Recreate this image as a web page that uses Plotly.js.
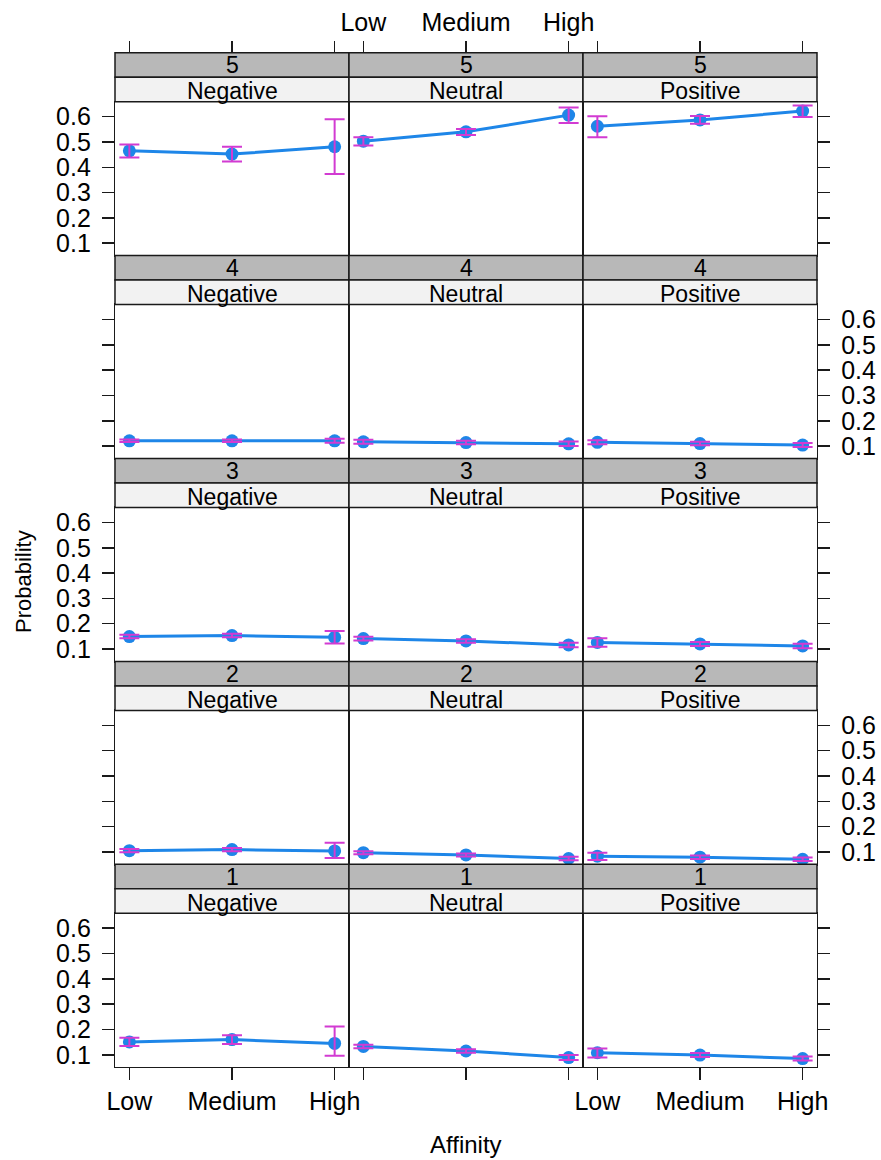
<!DOCTYPE html>
<html>
<head>
<meta charset="utf-8">
<script src="https://cdn.plot.ly/plotly-3.0.1.min.js"></script>
<style>
  html, body { margin: 0; padding: 0; background: #fff; }
  #chart { width: 881px; height: 1160px; }
</style>
</head>
<body>
<div id="chart"></div>
<script>
// Categories
const affinity = ['Low', 'Medium', 'High'];
const emotions = ['Negative', 'Neutral', 'Positive'];
const responses = ['5', '4', '3', '2', '1'];
const probTicks = [0.1, 0.2, 0.3, 0.4, 0.5, 0.6];

// Predicted probabilities, ordered Negative(Low, Medium, High), Neutral(...), Positive(...)
const prob5  = [0.465, 0.452, 0.481, 0.503, 0.540, 0.606, 0.562, 0.587, 0.622];
const lower5 = [0.439, 0.423, 0.373, 0.486, 0.527, 0.575, 0.519, 0.572, 0.599];
const upper5 = [0.490, 0.481, 0.590, 0.519, 0.551, 0.636, 0.602, 0.603, 0.644];

const prob4  = [0.121, 0.121, 0.121, 0.117, 0.114, 0.109, 0.115, 0.110, 0.104];
const lower4 = [0.116, 0.116, 0.113, 0.109, 0.107, 0.100, 0.107, 0.103, 0.096];
const upper4 = [0.126, 0.126, 0.129, 0.125, 0.121, 0.118, 0.123, 0.117, 0.112];

const prob3  = [0.149, 0.153, 0.146, 0.141, 0.132, 0.116, 0.126, 0.120, 0.112];
const lower3 = [0.142, 0.146, 0.122, 0.134, 0.125, 0.107, 0.109, 0.112, 0.103];
const upper3 = [0.156, 0.160, 0.171, 0.148, 0.139, 0.125, 0.142, 0.128, 0.121];

const prob2  = [0.105, 0.109, 0.104, 0.097, 0.088, 0.074, 0.083, 0.079, 0.071];
const lower2 = [0.099, 0.103, 0.076, 0.091, 0.082, 0.067, 0.068, 0.072, 0.064];
const upper2 = [0.111, 0.115, 0.136, 0.103, 0.094, 0.081, 0.097, 0.086, 0.078];

const prob1  = [0.151, 0.160, 0.145, 0.133, 0.115, 0.089, 0.108, 0.099, 0.085];
const lower1 = [0.135, 0.143, 0.096, 0.126, 0.108, 0.079, 0.089, 0.091, 0.077];
const upper1 = [0.167, 0.177, 0.212, 0.140, 0.122, 0.099, 0.125, 0.107, 0.093];

const probRows  = [prob5, prob4, prob3, prob2, prob1];
const lowerRows = [lower5, lower4, lower3, lower2, lower1];
const upperRows = [upper5, upper4, upper3, upper2, upper1];

// Page geometry (pixels)
const W = 881, H = 1160;
const colEdges = [115, 349, 583, 817];
const rowTop0 = 52.7, rowStep = 202.9, stripH = 24.5;
const px = v => v / W;
const py = v => 1 - v / H;

const FONT = 'Liberation Sans, Arial, sans-serif';
const FS = 25;        // tick labels
const FS_STRIP = 23;  // strip labels
const BLUE = '#1e86e8';
const MAGENTA = '#d23bd2';
const LINE = '#1a1a1a';
const LW = 1.2;

const traces = [];
const layout = {
  width: W, height: H,
  margin: { l: 0, r: 0, t: 0, b: 0 },
  paper_bgcolor: '#fff', plot_bgcolor: '#fff',
  showlegend: false,
  font: { family: FONT, size: FS, color: '#000' },
  shapes: [], annotations: []
};

const xRange = [0.86, 3.14];
const yRange = [0.051, 0.659];

for (let r = 0; r < 5; r++) {
  const top = rowTop0 + r * rowStep;
  const panelTop = top + 2 * stripH;
  const panelBot = top + rowStep;
  for (let c = 0; c < 3; c++) {
    const idx = r * 3 + c + 1;
    const xa = 'x' + idx, ya = 'y' + idx;
    const x0 = colEdges[c], x1 = colEdges[c + 1];

    const vals = probRows[r].slice(c * 3, c * 3 + 3);
    const lo = lowerRows[r].slice(c * 3, c * 3 + 3);
    const hi = upperRows[r].slice(c * 3, c * 3 + 3);

    // Line through the estimates
    traces.push({
      type: 'scatter', mode: 'lines+markers',
      x: [1, 2, 3], y: vals, xaxis: xa, yaxis: ya,
      line: { color: BLUE, width: 3 },
      marker: { color: BLUE, size: 13 },
      hoverinfo: 'skip'
    });
    // Confidence intervals drawn over the points
    traces.push({
      type: 'scatter', mode: 'markers',
      x: [1, 2, 3], y: vals, xaxis: xa, yaxis: ya,
      marker: { color: 'rgba(0,0,0,0)', size: 1 },
      error_y: {
        type: 'data', symmetric: false,
        array: vals.map((v, i) => hi[i] - v),
        arrayminus: vals.map((v, i) => v - lo[i]),
        color: MAGENTA, thickness: 2, width: 10
      },
      hoverinfo: 'skip'
    });

    layout['xaxis' + idx] = {
      domain: [px(x0), px(x1)], anchor: ya, range: xRange,
      tickmode: 'array', tickvals: [1, 2, 3], ticktext: affinity,
      showline: true, mirror: true, linecolor: LINE, linewidth: LW,
      ticks: r === 4 ? 'outside' : '', ticklen: 12, tickcolor: LINE, tickwidth: 1.5,
      showticklabels: r === 4 && c !== 1,
      tickfont: { family: FONT, size: FS, color: '#000' },
      showgrid: false, zeroline: false, fixedrange: true
    };
    const yTicked = c !== 1;
    layout['yaxis' + idx] = {
      domain: [py(panelBot), py(panelTop)], anchor: xa, range: yRange,
      side: c === 2 ? 'right' : 'left',
      tickmode: 'array', tickvals: probTicks,
      ticktext: probTicks.map(v => v.toFixed(1)),
      showline: true, mirror: true, linecolor: LINE, linewidth: LW,
      ticks: yTicked ? 'outside' : '', ticklen: 12, tickcolor: LINE, tickwidth: 1.5,
      ticklabelstandoff: 6,
      showticklabels: (c === 0 && r % 2 === 0) || (c === 2 && r % 2 === 1),
      tickfont: { family: FONT, size: FS, color: '#000' },
      showgrid: false, zeroline: false, fixedrange: true
    };

    // Strips: response level (dark) and emotion (light)
    layout.shapes.push({
      type: 'rect', xref: 'paper', yref: 'paper',
      x0: px(x0), x1: px(x1), y0: py(top + stripH), y1: py(top),
      fillcolor: '#b8b8b8', line: { color: LINE, width: 1.5 }
    });
    layout.shapes.push({
      type: 'rect', xref: 'paper', yref: 'paper',
      x0: px(x0), x1: px(x1), y0: py(top + 2 * stripH), y1: py(top + stripH),
      fillcolor: '#f2f2f2', line: { color: LINE, width: 1.5 }
    });
    layout.annotations.push({
      xref: 'paper', yref: 'paper', x: px((x0 + x1) / 2), y: py(top + stripH / 2),
      text: responses[r], showarrow: false, xanchor: 'center', yanchor: 'middle',
      font: { family: FONT, size: FS_STRIP, color: '#000' }
    });
    layout.annotations.push({
      xref: 'paper', yref: 'paper', x: px((x0 + x1) / 2), y: py(top + 1.5 * stripH + 1.5),
      text: emotions[c], showarrow: false, xanchor: 'center', yanchor: 'middle',
      font: { family: FONT, size: FS_STRIP, color: '#000' }
    });
  }
}

// Top axis ticks above the first strip row
for (let c = 0; c < 3; c++) {
  const idx = 16 + c;
  layout['xaxis' + idx] = {
    domain: [px(colEdges[c]), px(colEdges[c + 1])],
    overlaying: 'x' + (c + 1), anchor: 'free', position: py(rowTop0),
    side: 'top', range: xRange,
    tickmode: 'array', tickvals: [1, 2, 3], ticktext: affinity,
    showline: false, ticks: 'outside', ticklen: 12, tickcolor: LINE, tickwidth: 1.5,
    showticklabels: c === 1,
    tickfont: { family: FONT, size: FS, color: '#000' },
    showgrid: false, zeroline: false, fixedrange: true
  };
  traces.push({
    type: 'scatter', mode: 'markers', x: [2], y: [null],
    xaxis: 'x' + idx, yaxis: 'y' + (c + 1), hoverinfo: 'skip', showlegend: false
  });
}

// Axis titles
layout.annotations.push({
  xref: 'paper', yref: 'paper', x: px(466), y: py(1144),
  text: 'Affinity', showarrow: false, xanchor: 'center', yanchor: 'middle',
  font: { family: FONT, size: 24, color: '#000' }
});
layout.annotations.push({
  xref: 'paper', yref: 'paper', x: px(24), y: py(582),
  text: 'Probability', showarrow: false, textangle: -90,
  xanchor: 'center', yanchor: 'middle',
  font: { family: FONT, size: 22, color: '#000' }
});

Plotly.newPlot('chart', traces, layout, { staticPlot: true, displayModeBar: false });
</script>
</body>
</html>
